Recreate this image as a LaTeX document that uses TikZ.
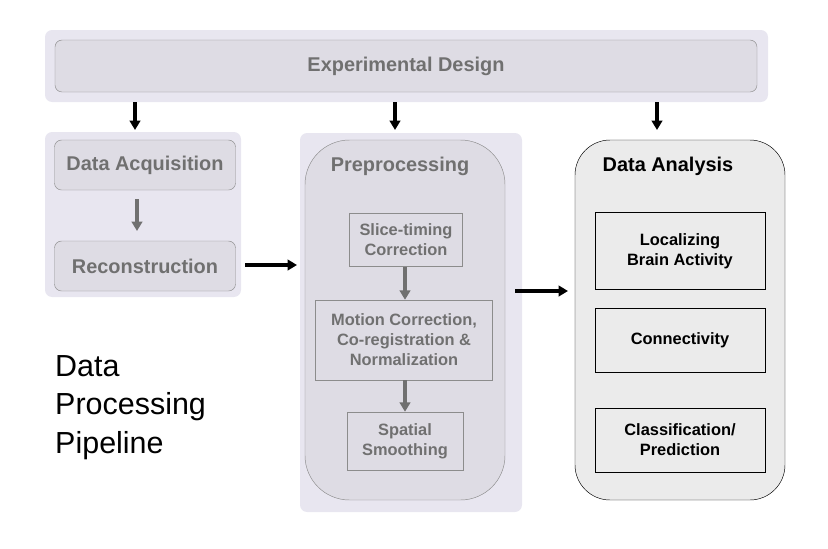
\documentclass[tikz,border=0pt]{standalone}
\usepackage{fontspec}
\setmainfont{Liberation Sans}
\usetikzlibrary{arrows.meta}
\definecolor{lav}{HTML}{E8E6F0}
\definecolor{boxfill}{HTML}{DEDCE4}
\definecolor{boxline}{HTML}{8C8C8C}
\definecolor{txtgray}{HTML}{707070}
\definecolor{anafill}{HTML}{EBEBEB}
\tikzset{
  panel/.style={fill=lav,draw=none,rounded corners=6pt},
  stage/.style={draw=boxline,fill=boxfill,rounded corners=6pt,text=txtgray,font=\fontsize{17}{19}\selectfont\bfseries},
  sub/.style={draw=boxline,fill=boxfill,text=txtgray,align=center,font=\fontsize{14}{17}\selectfont\bfseries},
  ana/.style={draw=black,fill=anafill,align=center,font=\fontsize{14}{17}\selectfont\bfseries},
  garrow/.style={-{Triangle[length=8pt,width=9pt]},line width=3pt,draw=txtgray},
  barrow/.style={-{Triangle[length=8pt,width=9pt]},line width=3pt,black}
}
\begin{document}
\begin{tikzpicture}[x=0.03cm,y=-0.03cm]
\useasboundingbox (0,0) rectangle (828,548);
% top band
\draw[panel] (45,30) rectangle (768,102);
\node[stage,minimum width=702*0.03cm,minimum height=52*0.03cm] (design) at (406,66) {Experimental Design};
% acquisition
\draw[panel] (45,132) rectangle (241,297);
\node[stage,minimum width=181*0.03cm,minimum height=50*0.03cm] (acq) at (145,165) {Data Acquisition};
\node[stage,minimum width=181*0.03cm,minimum height=50*0.03cm] (recon) at (145,266) {Reconstruction};
\coordinate (g1) at (137,199); \coordinate (g2) at (137,231);
\draw[garrow] (g1) -- (g2);
% preprocessing
\draw[panel] (300,133) rectangle (522,512);
\node[stage,rounded corners=38pt,minimum width=200*0.03cm,minimum height=360*0.03cm] (pre) at (405,320) {};
\node[text=txtgray,font=\fontsize{17}{19}\selectfont\bfseries] (pretitle) at (400,166) {Preprocessing};
\node[sub,minimum width=113*0.03cm,minimum height=53*0.03cm] (slice) at (406,240) {Slice-timing\\Correction};
\node[sub,minimum width=177*0.03cm,minimum height=80*0.03cm] (motion) at (404,340) {Motion Correction,\\Co-registration \&\\Normalization};
\node[sub,minimum width=116*0.03cm,minimum height=58*0.03cm] (smooth) at (405,441) {Spatial\\Smoothing};
\draw[garrow] (slice.south -| pre.center) -- (motion.north -| pre.center);
\draw[garrow] (motion.south -| pre.center) -- (smooth.north -| pre.center);
% analysis
\node[ana,rounded corners=30pt,minimum width=210*0.03cm,minimum height=360*0.03cm] (ana) at (680,320) {};
\node[font=\fontsize{17}{19}\selectfont\bfseries] (anatitle) at (668,166) {Data Analysis};
\node[ana,minimum width=170*0.03cm,minimum height=77*0.03cm] (local) at (680,251) {Localizing\\Brain Activity};
\node[ana,minimum width=170*0.03cm,minimum height=64*0.03cm] (conn) at (680,340) {Connectivity};
\node[ana,minimum width=170*0.03cm,minimum height=64*0.03cm] (class) at (680,440) {Classification/\\Prediction};
% connectors
\coordinate (d1) at (135,102); \coordinate (d2) at (395,102); \coordinate (d3) at (657,102);
\coordinate (e1) at (135,130); \coordinate (e2) at (395,130); \coordinate (e3) at (657,130);
\draw[barrow] (d1) -- (e1);
\draw[barrow] (d2) -- (e2);
\draw[barrow] (d3) -- (e3);
\coordinate (r1) at (245,265); \coordinate (r2) at (297,265);
\draw[barrow] (r1) -- (r2);
\coordinate (p1) at (515,291); \coordinate (p2) at (568,291);
\draw[barrow] (p1) -- (p2);
% caption
\node[align=left,anchor=north west,inner sep=0pt,font=\fontsize{26}{33}\selectfont] (cap) at (55,355) {Data\\Processing\\Pipeline};
\end{tikzpicture}
\end{document}
